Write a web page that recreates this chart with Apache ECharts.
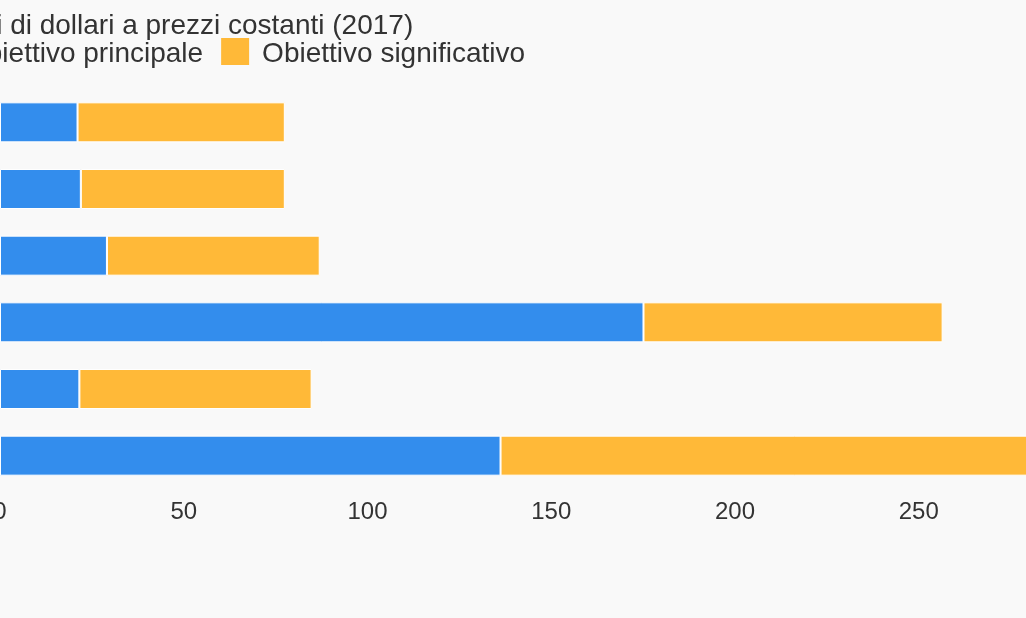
<!DOCTYPE html>
<html>
<head>
<meta charset="utf-8">
<script src="https://cdn.jsdelivr.net/npm/echarts@6/dist/echarts.min.js"></script>
<style>
  html, body { margin: 0; padding: 0; background: #f9f9f9; overflow: hidden; width: 1026px; height: 618px; }
  #chart { position: absolute; left: -374px; top: 0; width: 1500px; height: 618px; }
</style>
</head>
<body>
<div id="chart"></div>
<script>
const titleText = 'Milioni di dollari a prezzi costanti (2017)';
const seriesNames = ['Obiettivo principale', 'Obiettivo significativo'];
const categories = ['2012', '2013', '2014', '2015', '2016', '2017'];
const principale = [21.1, 22.0, 29.1, 175.1, 21.6, 136.2];
const significativo = [56.4, 55.5, 57.9, 81.4, 63.2, 160.0];
const xTicks = [0, 50, 100, 150, 200, 250, 300];

const chart = echarts.init(document.getElementById('chart'));
const font = '"Liberation Sans", Arial, sans-serif';
chart.setOption({
  backgroundColor: '#f9f9f9',
  animation: false,
  textStyle: { fontFamily: font },
  title: {
    text: titleText,
    left: 297, top: 12, padding: 0,
    textStyle: { fontSize: 28, fontWeight: 'normal', color: '#333333', fontFamily: font }
  },
  legend: {
    left: 298, top: 38, padding: 0,
    itemWidth: 28, itemHeight: 27, itemGap: 18,
    icon: 'rect',
    itemStyle: { borderWidth: 0 },
    data: seriesNames,
    formatter: function (name) { return '{t|' + name + '}'; },
    textStyle: {
      fontSize: 28, color: '#333333', fontFamily: font, padding: [0, 0, 0, 8],
      rich: { t: { fontSize: 28, color: '#333333', fontFamily: font, padding: [6, 0, 0, 0] } }
    }
  },
  grid: { left: 374, right: 23.5, top: 89, bottom: 129 },
  xAxis: {
    type: 'value', min: xTicks[0], max: xTicks[xTicks.length - 1], interval: 50,
    axisLine: { show: false }, axisTick: { show: false }, splitLine: { show: false },
    axisLabel: { fontSize: 24, color: '#333333', margin: 11, fontFamily: font }
  },
  yAxis: {
    type: 'category', inverse: true, data: categories,
    axisLine: { show: false }, axisTick: { show: false },
    axisLabel: { fontSize: 24, color: '#333333', fontFamily: font }
  },
  series: [
    { name: seriesNames[0], type: 'bar', stack: 'a', data: principale, barWidth: 40,
      itemStyle: { color: '#338ded', borderColor: '#ffffff', borderWidth: 1 } },
    { name: seriesNames[1], type: 'bar', stack: 'a', data: significativo, barWidth: 40,
      itemStyle: { color: '#ffb938', borderColor: '#ffffff', borderWidth: 1 } }
  ]
});
</script>
</body>
</html>
